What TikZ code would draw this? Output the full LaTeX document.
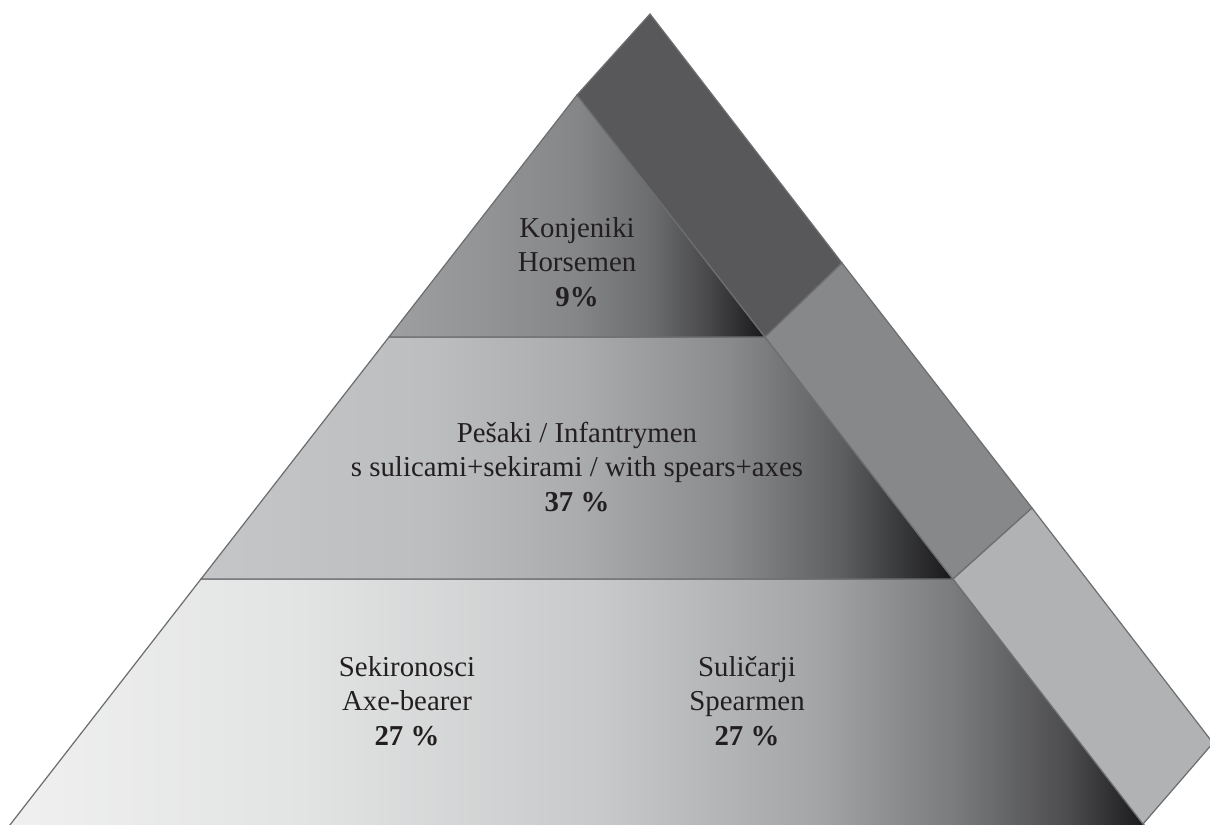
\documentclass[tikz,border=0pt]{standalone}
\usepackage{fontspec}
\setmainfont{Liberation Serif}
\definecolor{txt}{HTML}{231F20}
\definecolor{edge}{HTML}{6D6E70}
\definecolor{sideA}{HTML}{58585A}
\definecolor{sideB}{HTML}{87888A}
\definecolor{sideC}{HTML}{B1B2B4}
% top tier
\definecolor{ta}{HTML}{9E9FA1}
\definecolor{tb}{HTML}{939496}
\definecolor{tc}{HTML}{858688}
\definecolor{td}{HTML}{6B6C6E}
\definecolor{te}{HTML}{48484A}
\definecolor{tf}{HTML}{18181A}
% middle tier
\definecolor{ma}{HTML}{C5C6C8}
\definecolor{mb}{HTML}{BDBEC0}
\definecolor{mc}{HTML}{ABACAE}
\definecolor{md}{HTML}{8A8B8D}
\definecolor{me}{HTML}{5E5F61}
\definecolor{mf}{HTML}{18181A}
% bottom tier
\definecolor{ba}{HTML}{F0F0F0}
\definecolor{bb}{HTML}{E2E3E3}
\definecolor{bc}{HTML}{C8C9CA}
\definecolor{bd}{HTML}{A4A5A7}
\definecolor{be}{HTML}{7A7B7D}
\definecolor{bf}{HTML}{4C4C4E}
\definecolor{bg}{HTML}{18181A}
\pgfdeclarehorizontalshading{tierone}{100bp}{color(0bp)=(ta); color(25bp)=(ta); color(37.5bp)=(tb); color(50bp)=(tc); color(60bp)=(td); color(67.5bp)=(te); color(75bp)=(tf); color(100bp)=(tf)}
\pgfdeclarehorizontalshading{tiertwo}{100bp}{color(0bp)=(ma); color(25bp)=(ma); color(40bp)=(mb); color(50bp)=(mc); color(60bp)=(md); color(67.5bp)=(me); color(75bp)=(mf); color(100bp)=(mf)}
\pgfdeclarehorizontalshading{tierthree}{100bp}{color(0bp)=(ba); color(25bp)=(ba); color(38bp)=(bb); color(51bp)=(bc); color(60.5bp)=(bd); color(66.5bp)=(be); color(71.5bp)=(bf); color(75bp)=(bg); color(100bp)=(bg)}
\tikzset{
  lbl/.style={align=center, inner sep=0pt, text=txt, font=\fontsize{8.2}{9.8}\selectfont},
  face/.style={draw=edge, line width=0.35pt, line join=miter},
}
\begin{document}
\begin{tikzpicture}[x=0.01cm, y=-0.01cm]
\clip (0,0) rectangle (1210,824);
% front pyramid corners
\coordinate (A) at (577,95);
\coordinate (L1) at (389,337);
\coordinate (R1) at (765,337);
\coordinate (L2) at (201,579);
\coordinate (R2) at (953,579);
\coordinate (L3) at (6,830);
\coordinate (R3) at (1148,830);
% side strip corners
\coordinate (O0) at (650,14);
\coordinate (O1) at (842,263);
\coordinate (O2) at (1032,508);
\coordinate (O3) at (1213,743);
\coordinate (I3) at (1143,824);
% front tiers
\shadedraw[face, shading=tierthree] (L2) -- (R2) -- (R3) -- (L3) -- cycle;
\shadedraw[face, shading=tiertwo] (L1) -- (R1) -- (R2) -- (L2) -- cycle;
\shadedraw[face, shading=tierone] (A) -- (R1) -- (L1) -- cycle;
% side strip
\filldraw[face, fill=sideA] (A) -- (O0) -- (O1) -- (R1) -- cycle;
\filldraw[face, fill=sideB] (R1) -- (O1) -- (O2) -- (R2) -- cycle;
\filldraw[face, fill=sideC] (R2) -- (O2) -- (O3) -- (I3) -- cycle;
% labels
\node[lbl] (kon) at (577,262) {Konjeniki\\Horsemen\\\textbf{9\%}};
\node[lbl] (pes) at (577,467) {Pešaki / Infantrymen\\s sulicami+sekirami / with spears+axes\\\textbf{37 \%}};
\node[lbl] (sek) at (407,701) {Sekironosci\\Axe-bearer\\\textbf{27 \%}};
\node[lbl] (sul) at (747,701) {Suličarji\\Spearmen\\\textbf{27 \%}};
\end{tikzpicture}
\end{document}
